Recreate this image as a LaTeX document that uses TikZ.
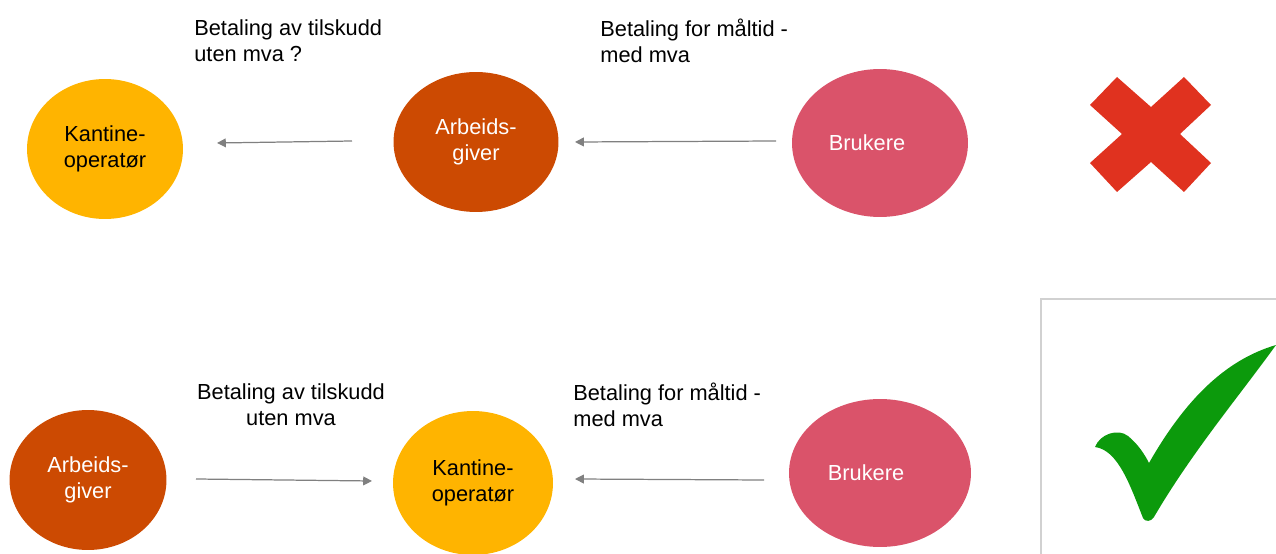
\documentclass[tikz,border=0pt]{standalone}
\usepackage{fontspec}
\setmainfont{Liberation Sans}
\usetikzlibrary{arrows.meta, shapes.geometric}

\definecolor{kantine}{HTML}{FFB400}
\definecolor{arbeid}{HTML}{CC4A02}
\definecolor{brukere}{HTML}{DA536A}
\definecolor{crossred}{HTML}{E0321F}
\definecolor{checkgreen}{HTML}{0C9A0C}

\begin{document}
\begin{tikzpicture}[
        x=0.02cm, y=-0.02cm,
        party/.style={ellipse, inner sep=0pt, align=center, font=\fontsize{12.4}{14.8}\selectfont},
        label/.style={inner sep=0pt, font=\fontsize{12.4}{14.8}\selectfont},
        arrow/.style={-{Triangle[length=5pt, width=5pt]}, draw=black!50, line width=0.7pt}
    ]
        \useasboundingbox (0,0) rectangle (1276,554);

        % --- TOP ROW (wrong) ---
        \node[party, fill=kantine, minimum width=3.12cm, minimum height=2.8cm] (kantine1) at (105,149) {Kantine-\\operatør};
        \node[party, fill=arbeid, text=white, minimum width=3.3cm, minimum height=2.8cm] (arbeid1) at (476,142) {Arbeids-\\giver};
        \node[party, fill=brukere, text=white, minimum width=3.52cm, minimum height=2.96cm] (brukere1) at (880,143) {\hspace*{-0.52cm}Brukere};

        \node[label, anchor=west, align=left] (txt1) at (194,41) {Betaling av tilskudd\\uten mva ?};
        \node[label, anchor=west, align=left] (txt2) at (600,41) {Betaling for måltid -\\med mva};

        \coordinate (a1s) at (352,141);
        \coordinate (a1e) at (217,143);
        \coordinate (a2s) at (776,141);
        \coordinate (a2e) at (575,142);
        \draw[arrow] (a1s) -- (a1e);
        \draw[arrow] (a2s) -- (a2e);

        % red cross
        \fill[crossred] (1090,105) -- (1117,77) -- (1151,107) -- (1184,77) -- (1211,105) -- (1180,134)
            -- (1211,163) -- (1184,192) -- (1151,162) -- (1117,192) -- (1090,163) -- (1122,134) -- cycle;

        % --- BOTTOM ROW (right) ---
        \node[party, fill=arbeid, text=white, minimum width=3.14cm, minimum height=2.8cm] (arbeid2) at (88,480) {Arbeids-\\giver};
        \node[party, fill=kantine, minimum width=3.2cm, minimum height=2.88cm] (kantine2) at (473,483) {Kantine-\\operatør};
        \node[party, fill=brukere, text=white, minimum width=3.64cm, minimum height=2.96cm] (brukere2) at (880,473) {\hspace*{-0.56cm}Brukere};

        \node[label, align=center] (txt3) at (291,405) {Betaling av tilskudd\\uten mva};
        \node[label, anchor=west, align=left] (txt4) at (573,405) {Betaling for måltid -\\med mva};

        \coordinate (a3s) at (196,479);
        \coordinate (a3e) at (372,481);
        \coordinate (a4s) at (764,480);
        \coordinate (a4e) at (575,479);
        \draw[arrow] (a3s) -- (a3e);
        \draw[arrow] (a4s) -- (a4e);

        % green tick in its box
        \draw[black!18, line width=0.8pt] (1041,299) rectangle (1290,570);
        \fill[checkgreen] (1095,447) .. controls (1100,434) and (1118,428) .. (1128,436)
            .. controls (1138,444) and (1145,455) .. (1149,463)
            .. controls (1185,400) and (1225,360) .. (1276,345)
            .. controls (1240,395) and (1192,452) .. (1154,517)
            .. controls (1151,522) and (1145,522) .. (1143,518)
            .. controls (1130,485) and (1118,450) .. (1095,447) -- cycle;

    \end{tikzpicture}
\end{document}
